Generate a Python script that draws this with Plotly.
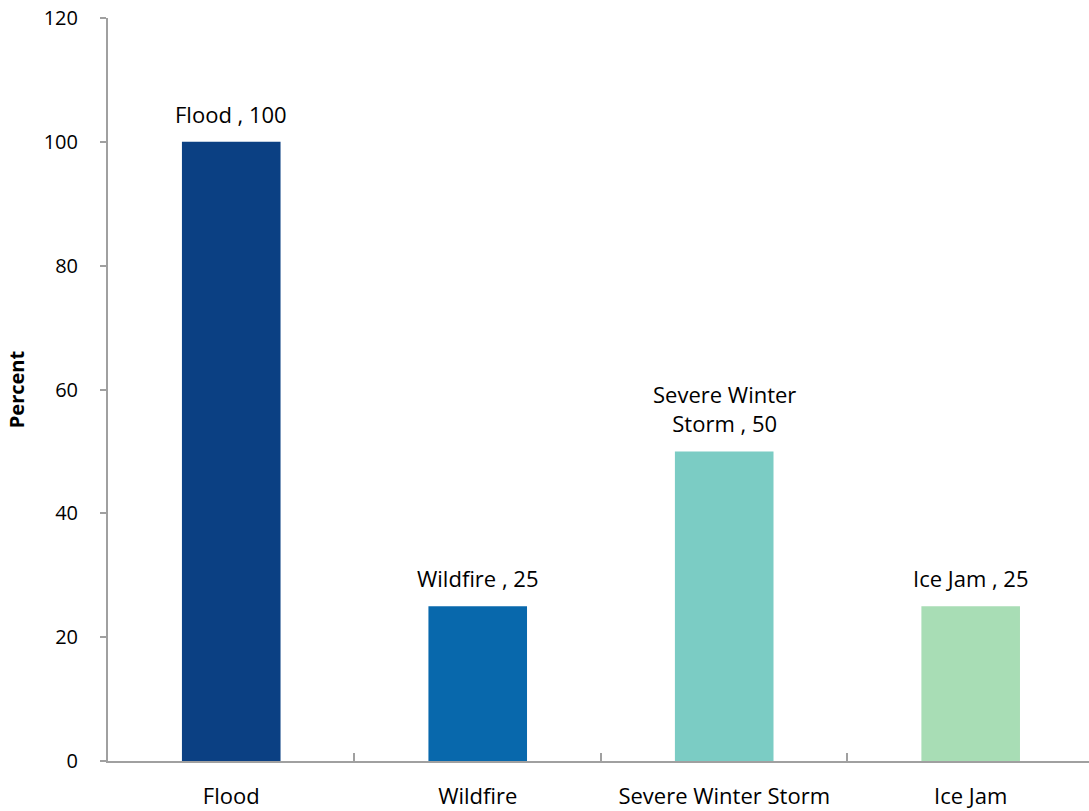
import plotly.graph_objects as go

categories = ["Flood", "Wildfire", "Severe Winter Storm", "Ice Jam"]
values = [100, 25, 50, 25]
label_names = ["Flood", "Wildfire", "Severe Winter<br>Storm", "Ice Jam"]
colors = ["#0B4083", "#0868AC", "#7BCCC4", "#A8DDB5"]
y_ticks = [0, 20, 40, 60, 80, 100, 120]

labels = [f"{n} , {v}" for n, v in zip(label_names, values)]

font_family = "Open Sans, Noto Sans, sans-serif"

fig = go.Figure(go.Bar(
    x=categories,
    y=values,
    marker=dict(color=colors, line=dict(width=0)),
    width=0.4,
    cliponaxis=False,
))

for c, v, t in zip(categories, values, labels):
    fig.add_annotation(
        x=c, y=v, text=t, showarrow=False,
        xanchor="center", yanchor="bottom", yshift=11,
        font=dict(size=22, color="#000000", family=font_family),
    )

fig.update_layout(
    width=1089, height=811,
    margin=dict(l=108, r=0, t=18, b=50),
    paper_bgcolor="white", plot_bgcolor="white",
    showlegend=False,
    font=dict(family=font_family, size=20, color="#000000"),
)
fig.update_xaxes(
    range=[-0.5, 3.48],
    automargin=False,
    showline=True, linecolor="#A0A0A0", linewidth=2,
    ticks="inside", tickson="boundaries", ticklen=8, tickcolor="#A0A0A0", tickwidth=2,
    showgrid=False, zeroline=False,
    tickfont=dict(size=22),
    ticklabelstandoff=15,
    ticklabeloverflow="allow",
)
fig.update_yaxes(
    range=[0, 120],
    automargin=False,
    tickvals=y_ticks,
    showline=True, linecolor="#A0A0A0", linewidth=2,
    ticks="outside", ticklen=6, tickcolor="#A0A0A0", tickwidth=2,
    showgrid=False, zeroline=False,
    tickfont=dict(size=20),
    ticklabelstandoff=18,
    ticklabeloverflow="allow",
    title=dict(text="<b>Percent</b>", font=dict(size=20), standoff=14),
)

# remove the page's default body margin so the figure fills the window exactly
fig.write_html(
    "out.html",
    config={"displayModeBar": False},
    post_script="document.body.style.margin='0px';",
)
